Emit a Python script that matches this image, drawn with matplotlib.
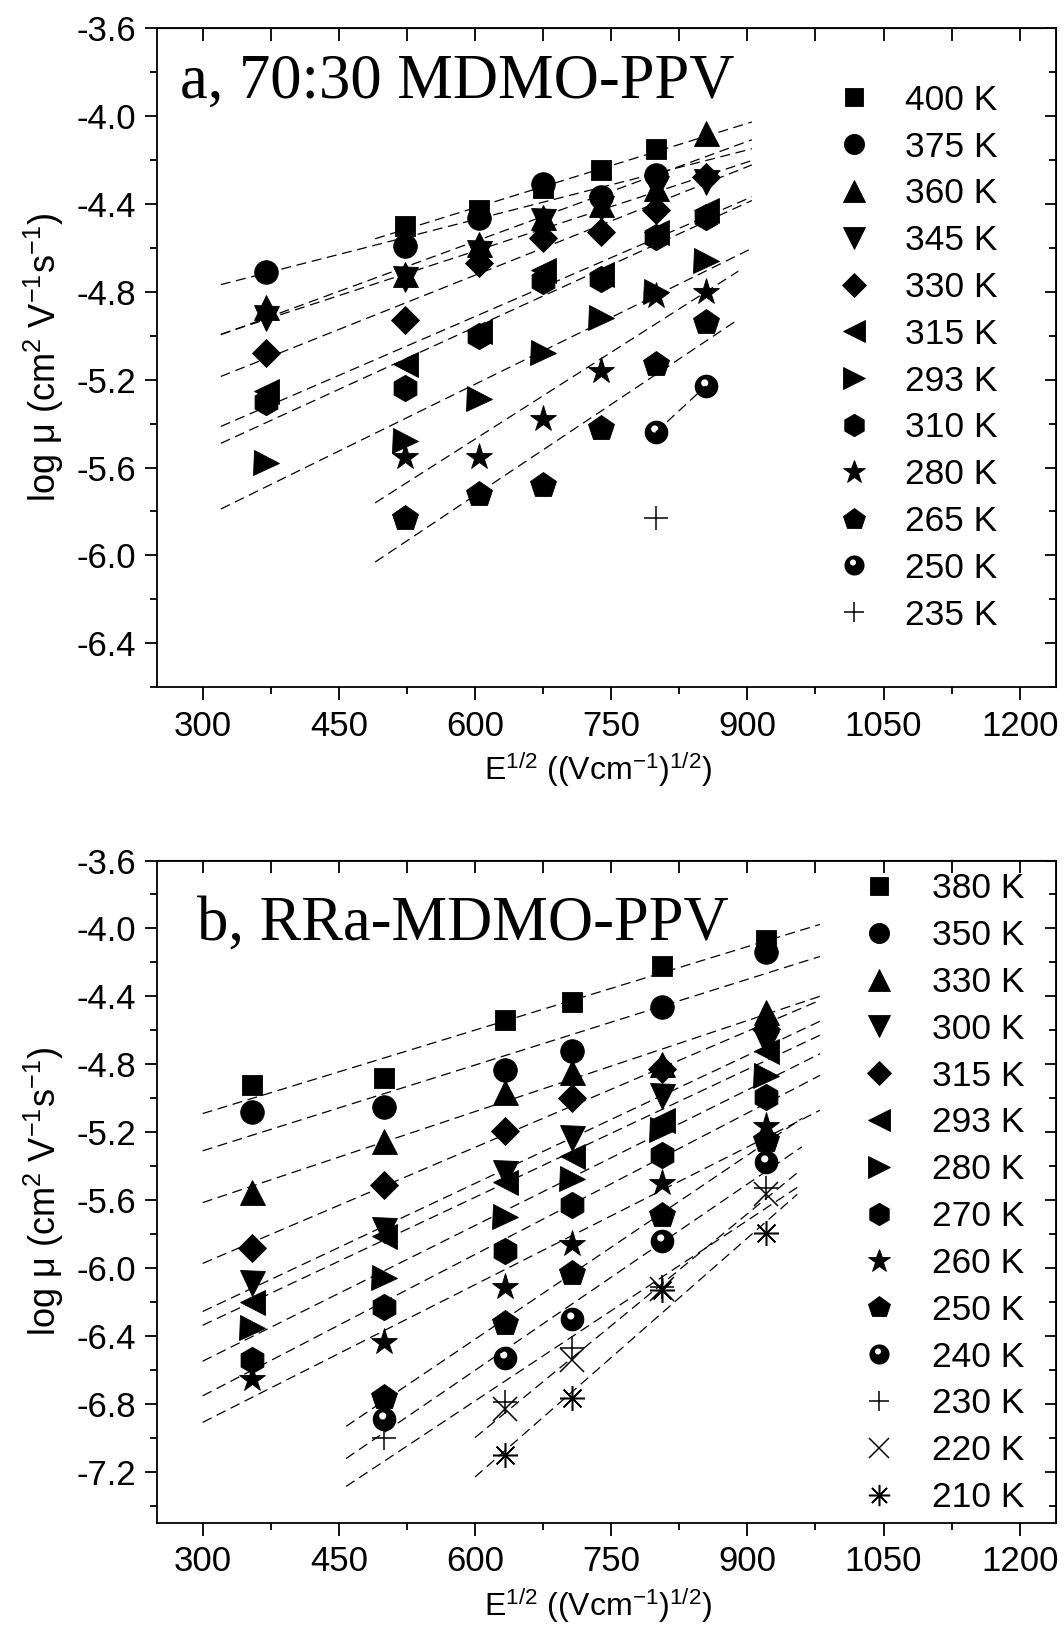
import numpy as np
import matplotlib
matplotlib.use('Agg')
import matplotlib.pyplot as plt
from matplotlib.path import Path
from matplotlib.ticker import MultipleLocator

plt.rcParams['font.family'] = ['Liberation Sans', 'DejaVu Sans']
plt.rcParams['mathtext.fontset'] = 'custom'
plt.rcParams['mathtext.rm'] = 'Liberation Sans'
plt.rcParams['mathtext.it'] = 'Liberation Sans:italic'
plt.rcParams['mathtext.bf'] = 'Liberation Sans:bold'

nan = np.nan

# ---------------- Panel a : 70:30 MDMO-PPV ----------------
field_a = [370, 523, 604, 675, 739, 799, 854]
labels_a = ['400 K', '375 K', '360 K', '345 K', '330 K', '315 K',
            '293 K', '310 K', '280 K', '265 K', '250 K', '235 K']
a_400 = [nan, -4.50, -4.43, -4.33, -4.245, -4.15, nan]
a_375 = [-4.71, -4.59, -4.465, -4.31, -4.37, -4.27, nan]
a_360 = [-4.87, -4.72, -4.585, -4.46, -4.40, -4.33, -4.08]
a_345 = [-4.92, -4.74, -4.625, -4.48, -4.42, -4.33, -4.30]
a_330 = [-5.08, -4.93, -4.67, -4.555, -4.53, -4.43, -4.28]
a_315 = [-5.25, -5.13, -4.98, -4.70, -4.72, -4.53, -4.43]
a_293 = [-5.58, -5.48, -5.29, -5.08, -4.92, -4.80, -4.66]
a_310 = [-5.30, -5.24, -5.00, -4.75, -4.74, -4.55, -4.46]
a_280 = [nan, -5.55, -5.55, -5.38, -5.16, -4.82, -4.80]
a_265 = [nan, -5.83, -5.72, -5.68, -5.42, -5.13, -4.94]
a_250 = [nan, nan, nan, nan, nan, -5.44, -5.23]
a_235 = [nan, nan, nan, nan, nan, -5.83, nan]
series_a = [a_400, a_375, a_360, a_345, a_330, a_315,
            a_293, a_310, a_280, a_265, a_250, a_235]
# extent of the dashed linear fits (E^1/2 units)
fit_from_a = [490, 320, 320, 320, 320, 320, 320, 320, 490, 490, 799, nan]
fit_to_a = [905, 905, 905, 905, 905, 905, 905, 905, 890, 890, 854, nan]

# ---------------- Panel b : RRa-MDMO-PPV ----------------
field_b = [354, 500, 633, 707, 806, 921]
labels_b = ['380 K', '350 K', '330 K', '300 K', '315 K', '293 K', '280 K',
            '270 K', '260 K', '250 K', '240 K', '230 K', '220 K', '210 K']
b_380 = [-4.92, -4.88, -4.54, -4.435, -4.22, -4.07]
b_350 = [-5.08, -5.05, -4.835, -4.72, -4.46, -4.14]
b_330 = [-5.55, -5.25, -4.96, -4.845, -4.80, -4.49]
b_300 = [-6.09, -5.775, -5.44, -5.235, -4.985, -4.675]
b_315 = [-5.88, -5.51, -5.19, -5.00, -4.83, -4.59]
b_293 = [-6.20, -5.81, -5.49, -5.34, -5.13, -4.72]
b_280 = [-6.35, -6.06, -5.70, -5.475, -5.185, -4.87]
b_270 = [-6.54, -6.23, -5.90, -5.63, -5.335, -4.99]
b_260 = [-6.65, -6.435, -6.11, -5.855, -5.50, -5.165]
b_250 = [nan, -6.76, -6.325, -6.03, -5.685, -5.245]
b_240 = [nan, -6.89, -6.53, -6.30, -5.84, -5.375]
b_230 = [nan, -7.00, -6.79, -6.47, -6.11, -5.53]
b_220 = [nan, nan, -6.83, -6.54, -6.125, -5.565]
b_210 = [nan, nan, -7.10, -6.765, -6.13, -5.795]
series_b = [b_380, b_350, b_330, b_300, b_315, b_293, b_280,
            b_270, b_260, b_250, b_240, b_230, b_220, b_210]
fit_from_b = [300] * 9 + [458, 458, 458, 600, 600]
fit_to_b = [980] * 9 + [960, 960, 960, 955, 955]


# ---------------- marker styles ----------------
def half_circle_marker():
    t = np.linspace(0, 2 * np.pi, 65)
    outer = np.column_stack([np.cos(t), np.sin(t)])
    r, cx, cy = 0.30, -0.15, 0.30
    inner = np.column_stack([cx + r * np.cos(-t), cy + r * np.sin(-t)])
    verts = np.vstack([outer, inner])
    codes = ([Path.MOVETO] + [Path.LINETO] * 63 + [Path.CLOSEPOLY]) * 2
    return Path(verts, codes)


HALF = half_circle_marker()
STYLE = {
    's': dict(marker='s', ms=14.5),
    'o': dict(marker='o', ms=17),
    '^': dict(marker='^', ms=18),
    'v': dict(marker='v', ms=18),
    'D': dict(marker='D', ms=14.5),
    '<': dict(marker='<', ms=18),
    '>': dict(marker='>', ms=18),
    'h': dict(marker='h', ms=19),
    '*': dict(marker='*', ms=20),
    'p': dict(marker='p', ms=19),
    'half': dict(marker=HALF, ms=17, mew=0),
    '+': dict(marker='+', ms=17, mew=1.1),
    'x': dict(marker='x', ms=17, mew=1.1),
    'ast': dict(marker=(8, 2, 0), ms=18, mew=1.1),
}
markers_a = ['s', 'o', '^', 'v', 'D', '<', '>', 'h', '*', 'p', 'half', '+']
markers_b = ['s', 'o', '^', 'v', 'D', '<', '>', 'h', '*', 'p', 'half', '+', 'x', 'ast']

W, H = 1064, 1629
fig = plt.figure(figsize=(W / 100, H / 100), dpi=100)


def make_axes(px_left, px_top, px_right, px_bottom):
    return fig.add_axes([px_left / W, 1 - px_bottom / H,
                         (px_right - px_left) / W, (px_bottom - px_top) / H])


def style_axes(ax, ylim, px_height):
    ax.set_xlim(250, 1240)
    ax.set_ylim(*ylim)
    for sp in ax.spines.values():
        sp.set_linewidth(1.3)
    ax.xaxis.set_major_locator(MultipleLocator(150))
    ax.xaxis.set_minor_locator(MultipleLocator(75))
    ax.yaxis.set_major_locator(MultipleLocator(0.4))
    ax.yaxis.set_minor_locator(MultipleLocator(0.2))
    ax.yaxis.set_major_formatter(plt.FuncFormatter(lambda v, p: f'{v:.1f}'))
    ax.tick_params(which='major', direction='out', length=9, width=1.3,
                   labelsize=25)
    ax.tick_params(which='minor', direction='out', length=4.8, width=1.3)
    ax.tick_params(axis='x', pad=7)
    ax.tick_params(axis='y', pad=6)
    top = ax.secondary_xaxis('top')
    top.xaxis.set_major_locator(MultipleLocator(75))
    top.tick_params(direction='in', length=9, width=1.3, labeltop=False)
    right = ax.secondary_yaxis('right')
    right.yaxis.set_major_locator(MultipleLocator(0.4))
    right.yaxis.set_minor_locator(MultipleLocator(0.2))
    right.tick_params(which='major', direction='in', length=8, width=1.3,
                      labelright=False)
    right.tick_params(which='minor', direction='in', length=5, width=1.3)
    ax.set_xlabel(r'E$^{1/2}$ ((Vcm$^{-1}$)$^{1/2}$)', fontsize=23)
    ax.xaxis.set_label_coords(0.49, -63.0 / px_height)
    ax.set_ylabel(r'log μ (cm$^{2}$ V$^{-1}$s$^{-1}$)', fontsize=26, labelpad=8)


def draw_panel(ax, field, series, labels, markers, fit_from, fit_to):
    x = np.asarray(field, float)
    handles = []
    for ys, lab, mk, x0, x1 in zip(series, labels, markers, fit_from, fit_to):
        y = np.asarray(ys, float)
        m = ~np.isnan(y)
        kw = dict(STYLE[mk])
        kw.setdefault('mew', 0.6)
        h, = ax.plot(x[m], y[m], linestyle='none', color='black', mfc='black',
                     mec='black', label=lab, zorder=3, **kw)
        handles.append(h)
        if m.sum() >= 2 and not np.isnan(x0):
            k, b = np.polyfit(x[m], y[m], 1)
            xx = np.array([x0, x1])
            ax.plot(xx, k * xx + b, color='black', lw=0.9, dashes=(8, 4.5),
                    zorder=2)
    return handles


# ---- panel a ----
axa = make_axes(157.3, 28, 1056, 687.3)
ha = draw_panel(axa, field_a, series_a, labels_a, markers_a, fit_from_a, fit_to_a)
style_axes(axa, (-6.6, -3.6), 659.3)
axa.text(0.0253, 0.8938, 'a, 70:30 MDMO-PPV', transform=axa.transAxes,
         family='Liberation Serif', fontsize=45, ha='left', va='baseline')
axa.legend(handles=ha, loc='upper left', bbox_to_anchor=(0.756, 0.9155),
           frameon=False, fontsize=25.5, handlelength=1.0, handletextpad=0.92,
           labelspacing=0.39, borderpad=0, borderaxespad=0, markerscale=0.85,
           numpoints=1)

# ---- panel b ----
axb = make_axes(157.3, 860.5, 1056, 1523)
hb = draw_panel(axb, field_b, series_b, labels_b, markers_b, fit_from_b, fit_to_b)
style_axes(axb, (-7.5, -3.6), 662.5)
axb.text(0.0443, 0.88, 'b, RRa-MDMO-PPV', transform=axb.transAxes,
         family='Liberation Serif', fontsize=45, ha='left', va='baseline')
axb.legend(handles=hb, loc='upper left', bbox_to_anchor=(0.7837, 0.982),
           frameon=False, fontsize=25.5, handlelength=1.0, handletextpad=1.0,
           labelspacing=0.39, borderpad=0, borderaxespad=0, markerscale=0.85,
           numpoints=1)

fig.savefig('out.png', dpi=100)
